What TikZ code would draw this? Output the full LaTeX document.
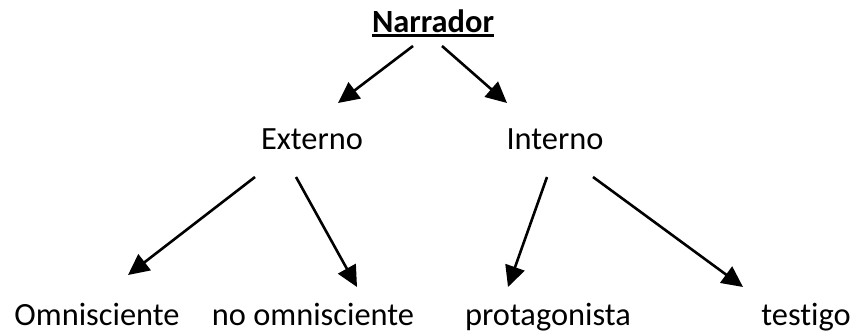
\documentclass[tikz,border=0pt]{standalone}
\usepackage{fontspec}
\setmainfont[Ligatures=NoCommon]{Carlito}
\usetikzlibrary{arrows.meta}

% thick underline
\newcommand\thickul[1]{\vtop{\hbox{#1}\kern1.1pt\hrule height 1.4pt}}

\tikzset{
  txt/.style={inner sep=0pt,anchor=base,font=\fontsize{16.2}{19}\selectfont},
  arr/.style={line width=1.3pt,-{Triangle[length=10.5pt,width=10pt]}}
}

\begin{document}
\begin{tikzpicture}[x=0.5pt,y=-0.5pt]
                    \useasboundingbox (0,0) rectangle (856,333);

                    % labels
                    \node[txt] (narr) at (433,32) {\thickul{\textbf{Narrador}}};
                    \node[txt] (ext) at (312,149) {Externo};
                    \node[txt] (int) at (555,149) {Interno};

                    \node[txt] (omni) at (97,325) {Omnisciente};
                    \node[txt] (noomni) at (313,325) {no omnisciente};
                    \node[txt] (prot) at (548,325) {protagonista};
                    \node[txt] (test) at (806,325) {testigo};

                    % arrows
                    \draw[arr] ([shift={(-20,14)}]narr.base) -- ([shift={(26,-46)}]ext.base);
                    \draw[arr] ([shift={(9,14)}]narr.base) -- ([shift={(-48,-46)}]int.base);

                    \draw[arr] ([shift={(-57,28)}]ext.base) -- ([shift={(31,-50)}]omni.base);
                    \draw[arr] ([shift={(-16,28)}]ext.base) -- ([shift={(44,-38)}]noomni.base);
                    \draw[arr] ([shift={(-8,28)}]int.base) -- ([shift={(-40,-38)}]prot.base);
                    \draw[arr] ([shift={(38,28)}]int.base) -- ([shift={(-63,-38)}]test.base);

                \end{tikzpicture}
\end{document}
